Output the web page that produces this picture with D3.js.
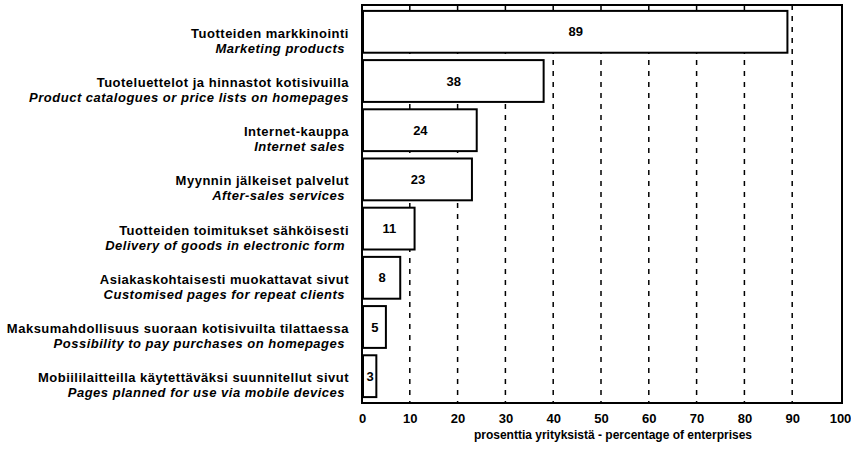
<!DOCTYPE html>
<html>
<head>
<meta charset="utf-8">
<script src="https://cdn.jsdelivr.net/npm/d3@7"></script>
<style>
  body { margin: 0; background: #fff; }
  svg text { font-family: "Liberation Sans", Arial, sans-serif; fill: #000; }
</style>
</head>
<body>
<div id="chart"></div>
<script>
// Data
const labelsFi = [
    "Tuotteiden markkinointi",
    "Tuoteluettelot ja hinnastot kotisivuilla",
    "Internet-kauppa",
    "Myynnin jälkeiset palvelut",
    "Tuotteiden toimitukset sähköisesti",
    "Asiakaskohtaisesti muokattavat sivut",
    "Maksumahdollisuus suoraan kotisivuilta tilattaessa",
    "Mobiililaitteilla käytettäväksi suunnitellut sivut"
];
const labelsEn = [
    "Marketing products",
    "Product catalogues or price lists on homepages",
    "Internet sales",
    "After-sales services",
    "Delivery of goods in electronic form",
    "Customised pages for repeat clients",
    "Possibility to pay purchases on homepages",
    "Pages planned for use via mobile devices"
];
const values = [89, 38, 24, 23, 11, 8, 5, 3];
const xTicks = [0, 10, 20, 30, 40, 50, 60, 70, 80, 90, 100];
const xTitle = "prosenttia yrityksistä - percentage of enterprises";

function drawChart() {
    const margin = {top: 5, right: 11, bottom: 53, left: 362},
        width = 851 - margin.left - margin.right,
        height = 456 - margin.top - margin.bottom;

    const svg = d3.select("#chart")
        .append("svg")
        .attr("width", 851)
        .attr("height", 456)
        .append("g")
        .attr("transform", `translate(${margin.left},${margin.top})`);

    const x = d3.scaleLinear()
        .domain([0, 100])
        .range([0, 478]);

    const y = d3.scaleBand()
        .domain(d3.range(values.length))
        .range([0, height])
        .paddingInner(0.15)
        .paddingOuter(0.12);

    // dashed grid lines
    svg.append("g")
        .selectAll("line")
        .data(xTicks.filter(d => d > 0 && d < 100))
        .join("line")
        .attr("x1", d => x(d))
        .attr("x2", d => x(d))
        .attr("y1", 0)
        .attr("y2", height)
        .attr("stroke", "#000")
        .attr("stroke-width", 1.5)
        .attr("stroke-dasharray", "5,6");

    // frame
    svg.append("rect")
        .attr("x", 0)
        .attr("y", 0)
        .attr("width", x(100) + 2)
        .attr("height", height)
        .attr("fill", "none")
        .attr("stroke", "#000")
        .attr("stroke-width", 2);

    // bars
    svg.append("g")
        .selectAll("rect")
        .data(values)
        .join("rect")
        .attr("x", 1)
        .attr("y", (d, i) => y(i))
        .attr("width", d => x(d) - 1)
        .attr("height", y.bandwidth())
        .attr("fill", "#fff")
        .attr("stroke", "#000")
        .attr("stroke-width", 2);

    // values inside bars
    svg.append("g")
        .selectAll("text")
        .data(values)
        .join("text")
        .attr("x", d => x(d) / 2 + 1)
        .attr("y", (d, i) => y(i) + y.bandwidth() / 2)
        .attr("dy", "0.35em")
        .attr("text-anchor", "middle")
        .style("font-size", "13px")
        .style("font-weight", "bold")
        .text(d => d);

    // category labels, two lines
    const lab = svg.append("g")
        .selectAll("g")
        .data(values)
        .join("g")
        .attr("transform", (d, i) => `translate(-13,${y(i) + y.bandwidth() / 2})`);

    lab.append("text")
        .attr("text-anchor", "end")
        .attr("y", 6)
        .style("font-size", "13px")
        .style("font-weight", "bold")
        .style("letter-spacing", "0.5px")
        .text((d, i) => labelsFi[i]);

    lab.append("text")
        .attr("text-anchor", "end")
        .attr("x", (d, i) => (i === 0 || i >= 2) ? -4 : 0)
        .attr("y", 21)
        .style("font-size", "13px")
        .style("font-weight", "bold")
        .style("font-style", "italic")
        .style("letter-spacing", "0.5px")
        .text((d, i) => labelsEn[i]);

    // x axis
    const xAxis = svg.append("g")
        .attr("transform", `translate(0,${height})`)
        .call(d3.axisBottom(x).tickValues(xTicks).tickSize(0).tickPadding(11));
    xAxis.select(".domain").remove();
    xAxis.selectAll("text")
        .style("font-size", "13px")
        .style("font-weight", "bold");

    // axis title
    svg.append("text")
        .attr("x", x(50) + 12)
        .attr("y", height + 36)
        .attr("text-anchor", "middle")
        .style("font-size", "12px")
        .style("font-weight", "bold")
        .text(xTitle);
}

drawChart();
</script>
</body>
</html>
